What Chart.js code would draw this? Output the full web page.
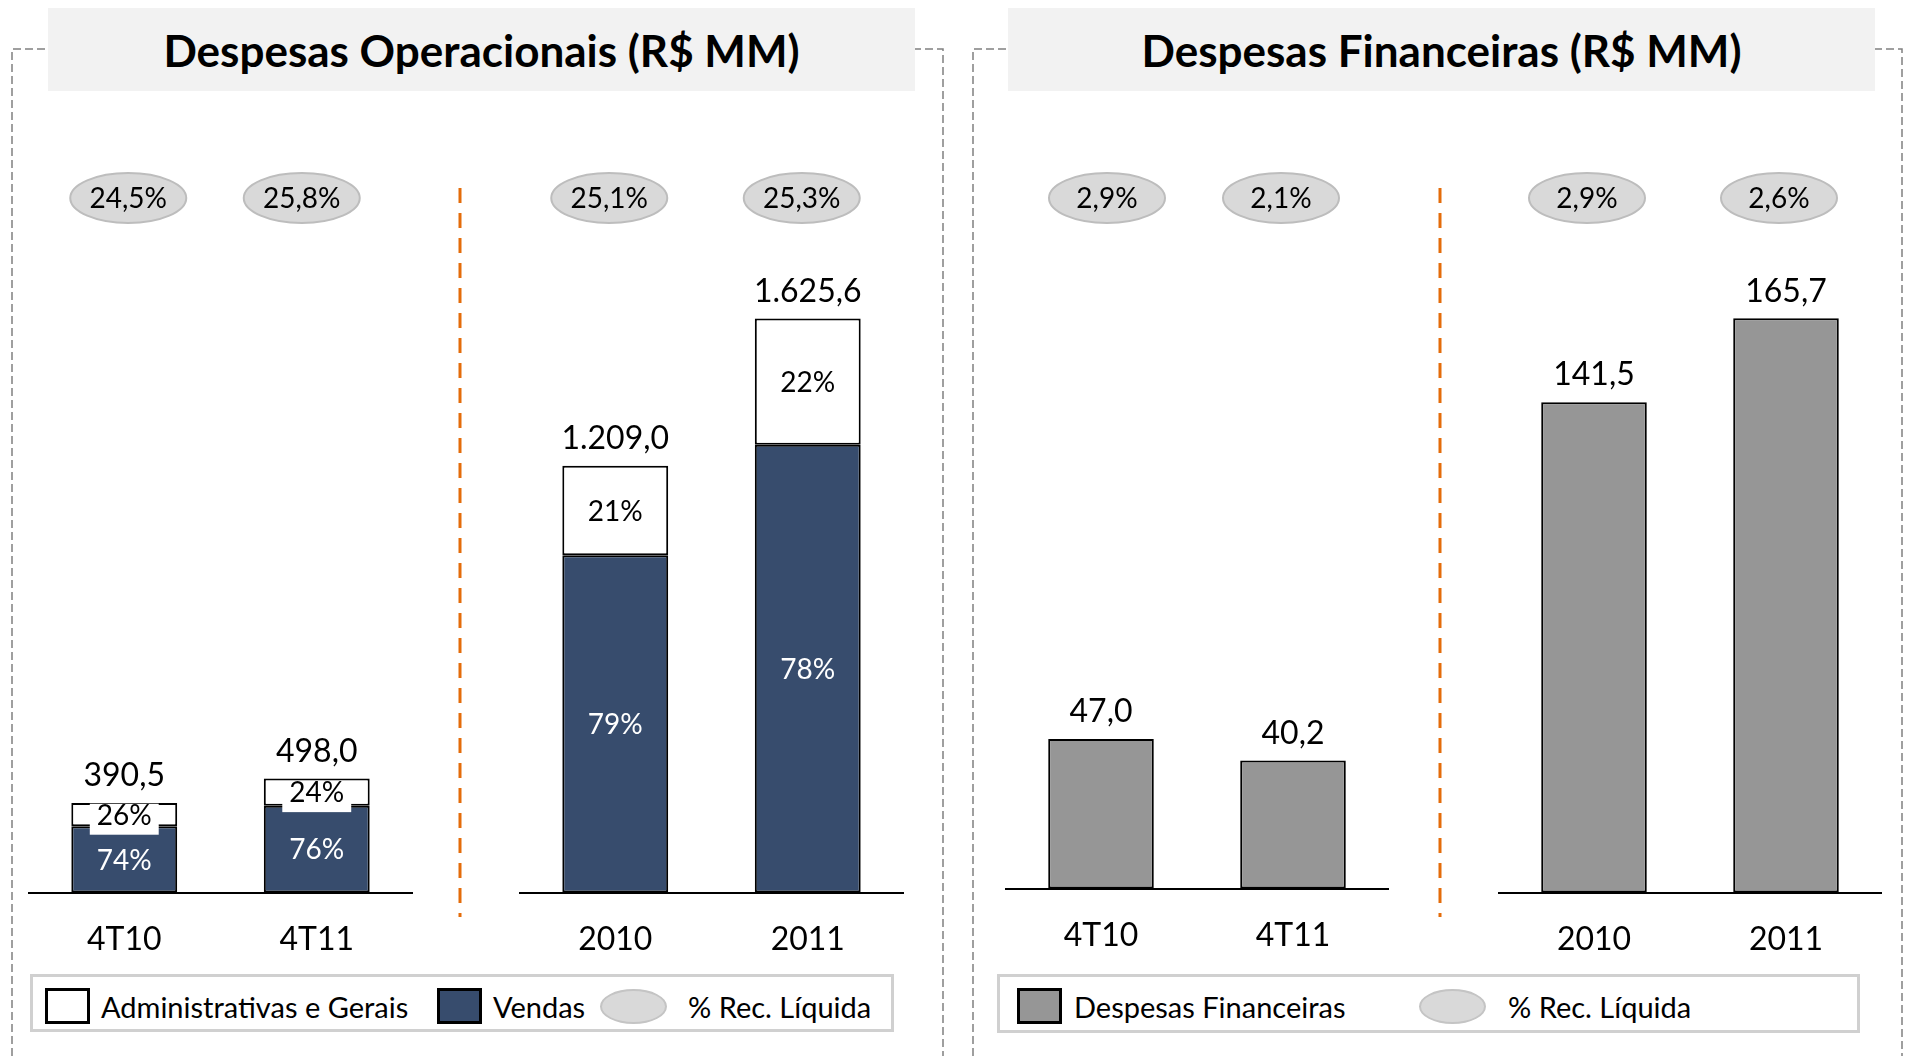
<!DOCTYPE html>
<html>
<head>
<meta charset="utf-8">
<script src="https://cdn.jsdelivr.net/npm/chart.js@4.4.1/dist/chart.umd.min.js"></script>
<style>
  body { margin: 0; width: 1905px; height: 1056px; background: #fff; overflow: hidden; position: relative; font-family: Lato, 'Open Sans', sans-serif; color: #000; }
  .abs { position: absolute; }
  .title { background: #f2f2f2; font-weight: bold; font-size: 44px; display: flex; align-items: center; justify-content: center; }
  .legend { border: 3px solid #d0d0d0; box-sizing: border-box; background: #fff; font-size: 29px; }
  .legend span { position: absolute; top: 12px; line-height: 36px; }
  .sw { position: absolute; top: 11px; width: 45px; height: 36px; border: 3px solid #000; box-sizing: border-box; }
  .el { position: absolute; top: 12px; width: 67px; height: 35px; border-radius: 50%; background: #d9d9d9; border: 2px solid #c4c4c4; box-sizing: border-box; }
</style>
</head>
<body>

<svg class="abs" style="left:0;top:0" width="1905" height="1056">
  <path d="M12 1056 V49 H943 V1056" fill="none" stroke="#808080" stroke-width="1.5" stroke-dasharray="8 4"/>
  <path d="M973 1056 V49 H1902 V1056" fill="none" stroke="#808080" stroke-width="1.5" stroke-dasharray="8 4"/>
  <line x1="460" y1="188" x2="460" y2="917" stroke="#e46c0a" stroke-width="3" stroke-dasharray="15 10"/>
  <line x1="1440" y1="188" x2="1440" y2="917" stroke="#e46c0a" stroke-width="3" stroke-dasharray="15 10"/>
</svg>

<div class="abs title" style="left:48px;top:8px;width:867px;height:83px;">Despesas Operacionais (R$ MM)</div>
<div class="abs title" style="left:1008px;top:8px;width:867px;height:83px;">Despesas Financeiras (R$ MM)</div>

<canvas id="opTri" class="abs" style="left:28px;top:120px" width="385" height="867"></canvas>
<canvas id="opAno" class="abs" style="left:519px;top:120px" width="385" height="867"></canvas>
<canvas id="finTri" class="abs" style="left:1005px;top:120px" width="384" height="863"></canvas>
<canvas id="finAno" class="abs" style="left:1498px;top:120px" width="384" height="867"></canvas>

<div class="abs legend" style="left:30px;top:974px;width:864px;height:58px;">
  <div class="sw" style="left:12px;background:#fff"></div><span style="left:68px">Administrativas e Gerais</span>
  <div class="sw" style="left:404px;background:#374c6d"></div><span style="left:460px">Vendas</span>
  <div class="el" style="left:567px"></div><span style="left:655px">% Rec. Líquida</span>
</div>
<div class="abs legend" style="left:997px;top:974px;width:863px;height:59px;">
  <div class="sw" style="left:17px;background:#969696"></div><span style="left:74px">Despesas Financeiras</span>
  <div class="el" style="left:419px"></div><span style="left:508px">% Rec. Líquida</span>
</div>

<script>
// Trimestres e anos
const trimestres = ['4T10', '4T11'];
const anos = ['2010', '2011'];

// Despesas operacionais (R$ MM)
const vendasTri = [289.0, 378.5];
const adminTri = [101.5, 119.5];
const vendasAno = [955.1, 1268.0];
const adminAno = [253.9, 357.6];
const recLiqOpTri = [24.5, 25.8];
const recLiqOpAno = [25.1, 25.3];

// Despesas financeiras (R$ MM)
const financTri = [47.0, 40.2];
const financAno = [141.5, 165.7];
const recLiqFinTri = [2.9, 2.1];
const recLiqFinAno = [2.9, 2.6];

const NAVY = '#374c6d';
const GRAY = '#969696';
const FONT = 'Lato, "Open Sans", sans-serif';

function fmtBR(v) {
    const parts = v.toFixed(1).split('.');
    parts[0] = parts[0].replace(/\B(?=(\d{3})+(?!\d))/g, '.');
    return parts.join(',');
}

// Rótulos das barras (totais e percentuais internos)
const labelsPlugin = {
    id: 'barLabels',
    afterDatasetsDraw(chart) {
        const ctx = chart.ctx;
        const sets = chart.data.datasets;
        ctx.save();
        ctx.textAlign = 'center';
        ctx.textBaseline = 'middle';
        sets.forEach((ds, di) => {
            const meta = chart.getDatasetMeta(di);
            meta.data.forEach((bar, i) => {
                if (ds.pctLabel) {
                    const total = sets.reduce((s, d) => s + d.data[i], 0);
                    const txt = Math.round(ds.data[i] / total * 100) + '%';
                    const y = (bar.y + bar.base) / 2;
                    ctx.font = '28px ' + FONT;
                    if (ds.labelBg) {
                        const w = ctx.measureText(txt).width + 14;
                        ctx.fillStyle = '#fff';
                        ctx.fillRect(bar.x - w / 2, y - 11, w, 31);
                    }
                    ctx.fillStyle = ds.labelColor;
                    ctx.fillText(txt, bar.x, y + 1);
                }
                if (ds.total) {
                    const total = sets.reduce((s, d) => s + d.data[i], 0);
                    ctx.font = '32px ' + FONT;
                    ctx.fillStyle = '#000';
                    ctx.fillText(fmtBR(total), bar.x, bar.y - 27);
                }
            });
        });
        ctx.restore();
    }
};

// Elipses de % da receita líquida
const ellipsePlugin = {
    id: 'recLiq',
    afterDraw(chart, args, opts) {
        const ctx = chart.ctx;
        const xs = chart.scales.x;
        ctx.save();
        opts.values.forEach((v, i) => {
            const x = xs.getPixelForValue(i) + (opts.shift[i] || 0);
            const y = chart.chartArea.top + 78;
            ctx.beginPath();
            ctx.ellipse(x, y, 58, 25, 0, 0, Math.PI * 2);
            ctx.fillStyle = '#d9d9d9';
            ctx.fill();
            ctx.lineWidth = 2;
            ctx.strokeStyle = '#bdbdbd';
            ctx.stroke();
            ctx.fillStyle = '#000';
            ctx.font = '28px ' + FONT;
            ctx.textAlign = 'center';
            ctx.textBaseline = 'middle';
            ctx.fillText(v.toFixed(1).replace('.', ',') + '%', x, y + 1);
        });
        ctx.restore();
    }
};

function makeChart(id, labels, datasets, ymax, recLiq, shift) {
    return new Chart(document.getElementById(id), {
        type: 'bar',
        data: { labels: labels, datasets: datasets },
        plugins: [labelsPlugin, ellipsePlugin],
        options: {
            responsive: false,
            animation: false,
            devicePixelRatio: 1,
            layout: { padding: 0 },
            datasets: { bar: { categoryPercentage: 1, barPercentage: 0.55, borderColor: '#000', borderWidth: 2, borderSkipped: false } },
            plugins: {
                legend: { display: false },
                tooltip: { enabled: false },
                recLiq: { values: recLiq, shift: shift }
            },
            scales: {
                x: {
                    stacked: true,
                    grid: { display: false, drawTicks: false },
                    border: { display: true, color: '#000', width: 2 },
                    ticks: { color: '#000', padding: 28, font: { family: FONT, size: 32 } }
                },
                y: { stacked: true, display: false, min: 0, max: ymax }
            }
        }
    });
}

makeChart('opTri', trimestres, [
    { label: 'Vendas', data: vendasTri, backgroundColor: NAVY, pctLabel: true, labelColor: '#fff' },
    { label: 'Administrativas e Gerais', data: adminTri, backgroundColor: '#fff', pctLabel: true, labelColor: '#000', labelBg: true, total: true }
], 3370, recLiqOpTri, [4, -15]);

makeChart('opAno', anos, [
    { label: 'Vendas', data: vendasAno, backgroundColor: NAVY, pctLabel: true, labelColor: '#fff' },
    { label: 'Administrativas e Gerais', data: adminAno, backgroundColor: '#fff', pctLabel: true, labelColor: '#000', total: true }
], 2188, recLiqOpAno, [-6, -6]);

makeChart('finTri', trimestres, [
    { label: 'Despesas Financeiras', data: financTri, backgroundColor: GRAY, total: true }
], 241.4, recLiqFinTri, [6, -12]);

makeChart('finAno', anos, [
    { label: 'Despesas Financeiras', data: financAno, backgroundColor: GRAY, total: true }
], 222.9, recLiqFinAno, [-7, -7]);
</script>
</body>
</html>
